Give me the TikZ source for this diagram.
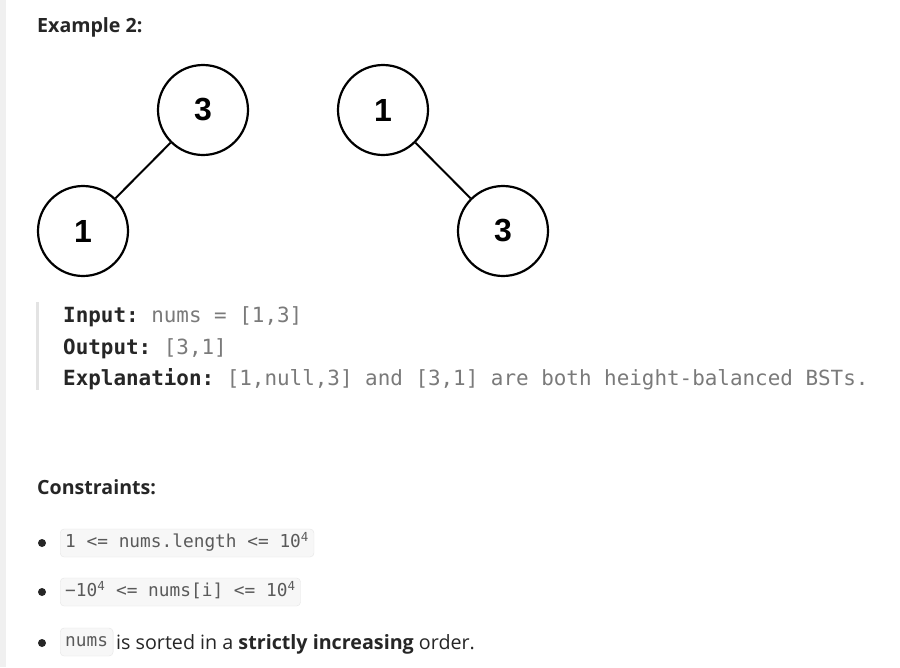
\documentclass[tikz,border=0pt]{standalone}
\usepackage{fontspec}
\setmainfont{Open Sans}
\setmonofont{DejaVu Sans Mono}
\newfontfamily\chiffres{Liberation Sans}
\definecolor{encre}{HTML}{262626}
\definecolor{gris}{HTML}{7A7A7A}
\definecolor{codegris}{HTML}{5A5A5A}
\definecolor{bande}{HTML}{F0F0F0}
\definecolor{trait}{HTML}{E3E3E3}
\definecolor{fond}{HTML}{F7F7F7}
\definecolor{cadre}{HTML}{E6E6E6}

\begin{document}
\begin{tikzpicture}[x=1pt,y=-1pt]
\tikzstyle{cercle}=[circle,draw=black,line width=2.2pt,minimum size=90pt,inner sep=0pt,
font=\chiffres\bfseries\fontsize{32}{32}\selectfont]
\tikzstyle{lien}=[line width=2pt]
\tikzstyle{titre}=[anchor=base west,inner sep=0pt,text=encre,font=\bfseries\fontsize{19.6}{24}\selectfont]
\tikzstyle{ligne}=[anchor=base west,inner sep=0pt,text=encre,font=\ttfamily\fontsize{20.9}{24}\selectfont]
\tikzstyle{code}=[anchor=west,draw=cadre,fill=fond,rounded corners=4pt,inner xsep=5pt,inner ysep=0pt,
text height=13pt,text depth=4pt,minimum height=28pt,text=codegris,font=\ttfamily\fontsize{17.8}{20}\selectfont]
\tikzstyle{puce}=[circle,fill=encre,inner sep=0pt,minimum size=8pt]
\tikzstyle{texte}=[anchor=base west,inner sep=0pt,text=encre,font=\fontsize{19.7}{24}\selectfont]

\useasboundingbox (0,0) rectangle (900,667);
\fill[white] (0,0) rectangle (900,667);
\fill[bande] (0,0) rectangle (6,667);

\node[titre] (exemple) at (37,32) {Example 2:};

\node[cercle] (g3) at (203,110) {3};
\node[cercle] (g1) at (83,231) {1};
\node[cercle] (d1) at (383,110) {1};
\node[cercle] (d3) at (503,231) {3};
\draw[lien] (g3) -- (g1);
\draw[lien] (d1) -- (d3);

\coordinate (haut) at (37.5,302);
\coordinate (bas) at (37.5,390);
\draw[trait,line width=3pt] (haut) -- (bas);
\node[ligne] (entree) at (63,322) {\textbf{Input:} \textcolor{gris}{nums = [1,3]}};
\node[ligne] (sortie) at (63,354) {\textbf{Output:} \textcolor{gris}{[3,1]}};
\node[ligne] (explication) at (63,385) {\textbf{Explanation:} \textcolor{gris}{[1,null,3] and [3,1] are both height-balanced BSTs.}};

\node[titre] (contraintes) at (37,494) {Constraints:};

\node[puce] (p1) at (42,543) {};
\node[puce] (p2) at (42,592) {};
\node[puce] (p3) at (42,643) {};
\node[code] (c1) at (60,543) {1 <= nums.length <= 10\textsuperscript{4}};
\node[code] (c2) at (60,592) {−10\textsuperscript{4} <= nums[i] <= 10\textsuperscript{4}};
\node[code] (c3) at (60,642) {nums};
\node[texte] (phrase) at (116,649) {is sorted in a \textbf{strictly increasing} order.};
\end{tikzpicture}
\end{document}
